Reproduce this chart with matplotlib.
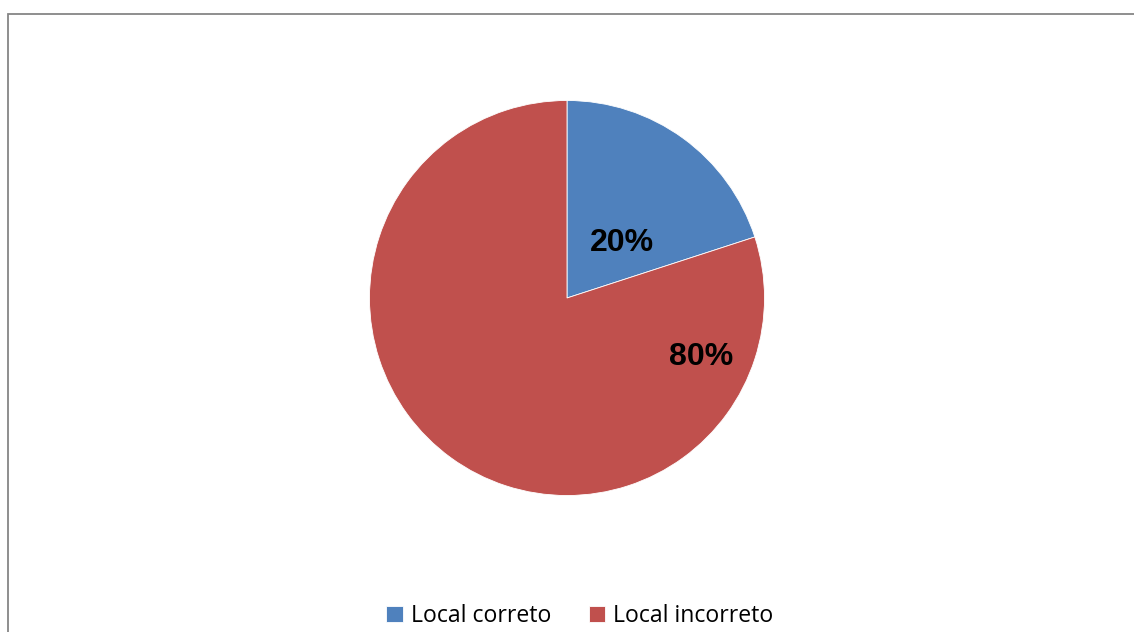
import matplotlib.pyplot as plt
from matplotlib.patches import Rectangle

# Datos
categorias = ['Local correto', 'Local incorreto']
valores = [20, 80]
colores = ['#4F81BD', '#C0504D']

fig = plt.figure(figsize=(11.34, 6.32), dpi=100)
fig.patch.set_facecolor('white')

# Marco gris del gráfico (cortado a la derecha y abajo)
borde = Rectangle((7.5 / 1134, -0.1), 1.2, 0.1 + 1 - 13.5 / 632,
                  transform=fig.transFigure, fill=False,
                  edgecolor='#868686', linewidth=1.3, zorder=0)
fig.patches.append(borde)

# Eje del pastel: centro (567, 298) px, radio ~197.5 px
r_px = 197.5
ax = fig.add_axes([(567 - r_px) / 1134, (632 - 298 - r_px) / 632,
                   2 * r_px / 1134, 2 * r_px / 632])
wedges, textos, autotextos = ax.pie(
    valores, colors=colores, startangle=90, counterclock=False,
    autopct='%1.0f%%', pctdistance=0.45,
    wedgeprops=dict(edgecolor='white', linewidth=0.6),
    textprops=dict(fontsize=23, fontweight='bold', color='black',
                   family='Liberation Sans'))
ax.set_xlim(-1, 1)
ax.set_ylim(-1, 1)
ax.set_aspect('equal')
ax.axis('off')

# Posiciones de las etiquetas como en el original
autotextos[0].set_position((0.28, 0.28))
autotextos[1].set_position((0.68, -0.30))

fig.legend(wedges, categorias, loc='center', bbox_to_anchor=(580 / 1134, 16 / 632),
           ncol=2, frameon=False, prop=dict(family='Open Sans', size=16.6),
           handlelength=0.7, handleheight=0.7, handletextpad=0.35,
           columnspacing=1.65, borderaxespad=0)

fig.savefig('out.png', dpi=100)
